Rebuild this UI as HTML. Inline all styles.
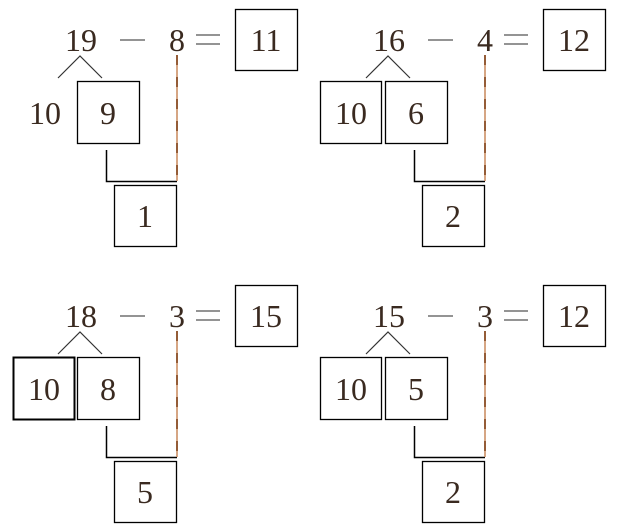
<!DOCTYPE html>
<html><head><meta charset="utf-8"><style>
html,body{margin:0;padding:0;background:#fff;width:617px;height:527px;overflow:hidden}
text{font-family:"Liberation Serif",serif;font-size:32px;fill:#3a2a20;text-anchor:middle}
.b{fill:none;stroke:#000;stroke-width:1.3}
</style></head><body>
<svg width="617" height="527" viewBox="0 0 617 527" xmlns="http://www.w3.org/2000/svg">
<defs>
<g id="base">
<rect class="b" x="235.5" y="9.5" width="62" height="61"/>
<rect class="b" x="77.5" y="81.5" width="62" height="62"/>
<rect class="b" x="114.5" y="185.5" width="62" height="61"/>
<line x1="120" y1="40" x2="145" y2="40" stroke="#555" stroke-width="1.3"/>
<line x1="196" y1="35" x2="220" y2="35" stroke="#555" stroke-width="1.3"/>
<line x1="196" y1="44" x2="220" y2="44" stroke="#555" stroke-width="1.3"/>
<polyline points="58,78 80,56 102,78" fill="none" stroke="#333" stroke-width="1.2"/>
<polyline points="106.5,150 106.5,181.5 177,181.5" fill="none" stroke="#000" stroke-width="1.5"/>
<line x1="177" y1="55" x2="177" y2="181" stroke="#c8895a" stroke-width="1.5"/>
<line x1="177" y1="55" x2="177" y2="181" stroke="#7a3a10" stroke-width="1.5" stroke-dasharray="10 12"/>
</g>
</defs>
<use href="#base"/>
<text x="81" y="51">19</text><text x="177" y="51">8</text><text x="266" y="51">11</text>
<text x="45" y="124">10</text><text x="108" y="124">9</text><text x="145" y="227">1</text>
<g transform="translate(308,0)">
<use href="#base"/>
<rect class="b" x="12.5" y="81.5" width="61" height="62"/>
<text x="81" y="51">16</text><text x="177" y="51">4</text><text x="266" y="51">12</text>
<text x="43" y="124">10</text><text x="108" y="124">6</text><text x="145" y="227">2</text>
</g>
<g transform="translate(0,276)">
<use href="#base"/>
<rect class="b" x="13.5" y="81.5" width="61" height="62" style="stroke-width:2"/>
<text x="81" y="51">18</text><text x="177" y="51">3</text><text x="266" y="51">15</text>
<text x="44" y="124">10</text><text x="108" y="124">8</text><text x="145" y="227">5</text>
</g>
<g transform="translate(308,276)">
<use href="#base"/>
<rect class="b" x="12.5" y="81.5" width="61" height="62"/>
<text x="81" y="51">15</text><text x="177" y="51">3</text><text x="266" y="51">12</text>
<text x="43" y="124">10</text><text x="108" y="124">5</text><text x="145" y="227">2</text>
</g>
</svg>
</body></html>
